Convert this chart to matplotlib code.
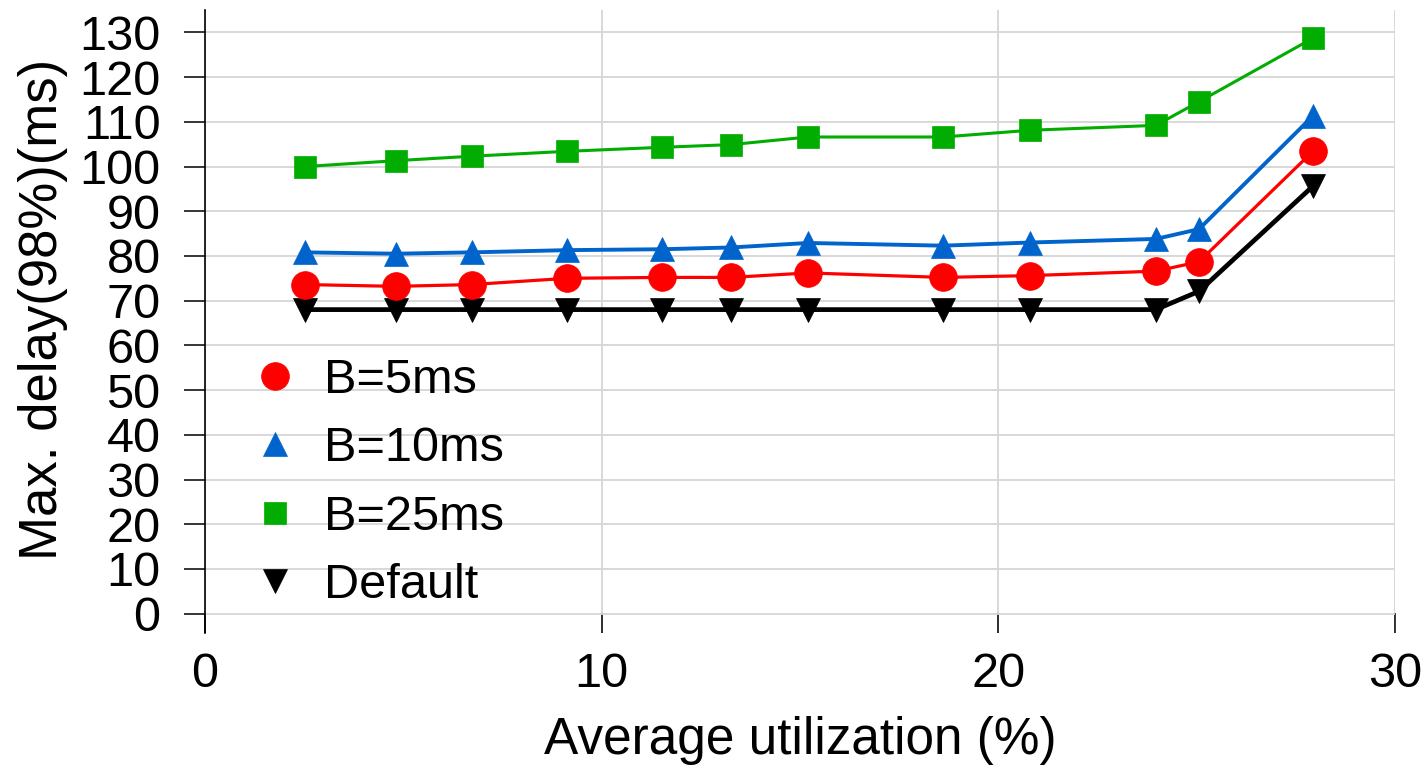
import matplotlib
matplotlib.use('Agg')
import matplotlib.pyplot as plt

plt.rcParams['font.family'] = ['Liberation Sans', 'DejaVu Sans']

# 平均使用率 (%)
util = [2.53, 4.81, 6.72, 9.13, 11.53, 13.27, 15.2, 18.61, 20.79, 23.97, 25.06, 27.93]

# 最大遅延 98% (ms)
b5 = [73.6, 73.2, 73.6, 75.0, 75.2, 75.2, 76.2, 75.2, 75.6, 76.6, 78.7, 103.4]
b10 = [80.8, 80.5, 80.8, 81.3, 81.5, 81.9, 82.9, 82.3, 83.0, 83.8, 86.0, 111.3]
b25 = [100.0, 101.3, 102.3, 103.4, 104.3, 104.9, 106.6, 106.6, 108.1, 109.2, 114.5, 128.7]
default = [68.0, 68.0, 68.0, 68.0, 68.0, 68.0, 68.0, 68.0, 68.0, 68.0, 72.1, 95.6]

labels = ['B=5ms', 'B=10ms', 'B=25ms', 'Default']
x_ticks = [0, 10, 20, 30]
y_ticks = list(range(0, 131, 10))

fig = plt.figure(figsize=(14.27, 7.73), dpi=100)
ax = fig.add_axes([0.14366, 0.18111, 0.97757 - 0.14366, 0.98706 - 0.18111])

ax.plot(util, default, color='black', lw=3.4, marker='v', ms=17, mec='black', mew=0.5, label=labels[3], zorder=3)
ax.plot(util, b5, color='#ff0000', lw=2.3, marker='o', ms=20, mec='#ff0000', mew=0.5, label=labels[0], zorder=4)
ax.plot(util, b10, color='#0064cc', lw=2.8, marker='^', ms=17, mec='#0064cc', mew=0.5, label=labels[1], zorder=4)
ax.plot(util, b25, color='#00ad00', lw=2.2, marker='s', ms=16, mec='#00ad00', mew=0.5, label=labels[2], zorder=4)

ax.set_xlim(0, 30)
ax.set_ylim(-4.32, 135.0)
ax.set_xticks(x_ticks)
ax.set_yticks(y_ticks)
ax.grid(True, color='#d6d6d6', lw=1.3, zorder=0)
ax.set_axisbelow(True)

for s in ['top', 'right', 'bottom']:
    ax.spines[s].set_visible(False)
ax.spines['left'].set_linewidth(1.2)

ax.tick_params(axis='x', direction='in', length=14.4, width=1.1, pad=13.5, labelsize=35)
ax.tick_params(axis='y', direction='out', length=15, width=1.1, pad=17, labelsize=35)

ax.set_xlabel('Average utilization (%)', fontsize=37, labelpad=14)
ax.set_ylabel('Max. delay(98%)(ms)', fontsize=38)
ax.yaxis.set_label_coords(-0.115, 0.52)

h, l = ax.get_legend_handles_labels()
order = [1, 2, 3, 0]
ax.legend([h[i] for i in order], [l[i] for i in order], loc='upper left',
          bbox_to_anchor=(251 / 1427, 1 - 358 / 773), bbox_transform=fig.transFigure,
          frameon=False, fontsize=35, handlelength=1.0, handletextpad=0.5,
          labelspacing=0.48, borderpad=0, borderaxespad=0, numpoints=1)
for lh in ax.get_legend().get_lines():
    lh.set_linestyle('none')

fig.savefig('out.png', dpi=100)
